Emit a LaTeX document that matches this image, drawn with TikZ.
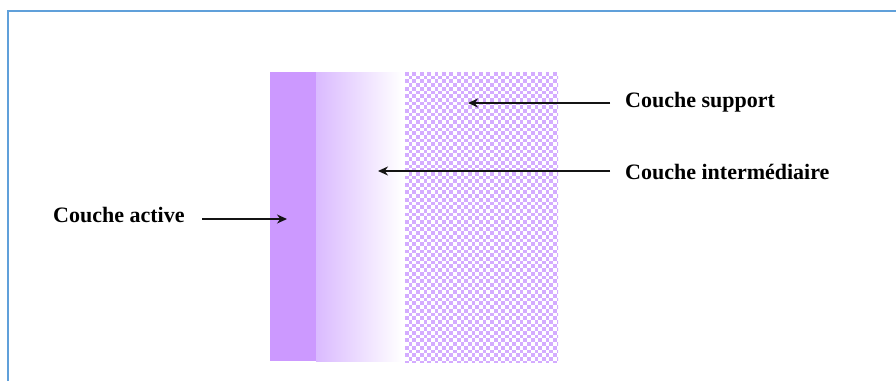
\documentclass[tikz,border=0pt]{standalone}
\usepackage{fontspec}
\setmainfont{Liberation Serif}
\usetikzlibrary{arrows.meta}
\definecolor{frameblue}{RGB}{96,160,218}
\definecolor{activec}{RGB}{204,153,255}
\definecolor{gradc}{RGB}{218,186,255}
\definecolor{chkc}{RGB}{212,172,255}
\definecolor{arrc}{RGB}{20,20,20}
\tikzset{
  lbl/.style={font=\fontsize{22}{26}\selectfont\bfseries, text=black, inner sep=0pt, anchor=west},
  arr/.style={draw=arrc, line width=1.5pt, -{Stealth[length=10pt,width=9pt]}},
  frm/.style={draw=frameblue, line width=2.8pt}
}
\begin{document}
\begin{tikzpicture}[x=1pt,y=-1pt]
\useasboundingbox (0,0) rectangle (896,381);
\fill[white] (0,0) rectangle (896,381);
% frame (top and left edges visible)
\draw[frm] (8,381) -- (8,11) -- (896,11);
% active layer
\fill[activec] (270,72) rectangle (316,361);
% intermediate layer gradient
\shade[left color=gradc, right color=white] (316,72) rectangle (402,361);
% support layer checkerboard
\begin{scope}
\clip (405,72) rectangle (558,362);
\foreach \j in {0,...,79}{
  \pgfmathtruncatemacro\o{mod(\j,2)}
  \foreach \i in {0,2,...,42}{
    \fill[chkc] ({405+(\i+\o)*3.7},{72+\j*3.7}) rectangle +(3.7,3.7);
  }
}
\end{scope}
% labels
\node[lbl] (sup) at (625,102) {Couche support};
\node[lbl] (inter) at (625,172) {Couche intermédiaire};
\node[lbl] (act) at (53,215) {Couche active};
% arrow endpoints
\coordinate (supS) at (610,103);
\coordinate (supT) at (468,103);
\coordinate (intS) at (610,171);
\coordinate (intT) at (378,171);
\coordinate (actS) at (202,219);
\coordinate (actT) at (287,219);
\draw[arr] (supS) -- (supT);
\draw[arr] (intS) -- (intT);
\draw[arr] (actS) -- (actT);
\end{tikzpicture}
\end{document}
